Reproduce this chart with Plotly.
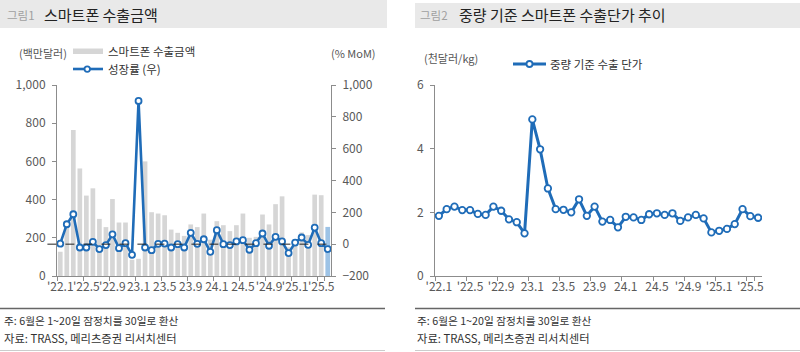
import plotly.graph_objects as go

# ---------------- data ----------------
months = [f"{y}-{m:02d}" for y in (2022, 2023, 2024, 2025) for m in range(1, 13)][:42]
tick_labels = ["'22.1", "'22.5", "'22.9", "23.1", "23.5", "23.9", "24.1", "24.5", "'24.9", "'25.1", "'25.5"]

export_amount = [127, 270, 765, 563, 421, 459, 299, 256, 403, 280, 280, 85,
                 90, 600, 334, 327, 318, 243, 226, 210, 270, 256, 327, 190,
                 287, 266, 235, 266, 327, 200, 205, 322, 270, 376, 417, 150,
                 170, 228, 214, 426, 423, 257]

growth_mom = [3, 125, 188, -21, -21, 15, -31, -6, 62, -25, 6, -67,
              900, -21, -38, 2, 4, -21, 0, -21, 71, 2, 31, -48,
              88, 0, -6, 17, 25, -35, 6, 67, -10, 46, 17, -56,
              10, 42, -4, 104, 6, -31]

unit_price = [1.89, 2.10, 2.18, 2.07, 2.07, 1.95, 1.92, 2.18, 2.05, 1.78, 1.69, 1.34,
              4.92, 3.98, 2.75, 2.10, 2.08, 2.00, 2.41, 1.89, 2.18, 1.71, 1.76, 1.53,
              1.86, 1.84, 1.76, 1.94, 1.97, 1.92, 1.97, 1.73, 1.84, 1.92, 1.81, 1.37,
              1.42, 1.48, 1.63, 2.10, 1.88, 1.83]

# ---------------- style ----------------
W, H = 800, 352
FONT = "Noto Sans CJK KR"
BLUE = "#1f6cb8"
GRAY_BAR = "#d6d6d6"
LAST_BAR = "#9dc3e6"
AX = "#8c8c8c"
TICKC = "#595959"

def px(x):
    return x / W

def py(y):
    return 1 - y / H

bar_colors = [GRAY_BAR] * (len(months) - 1) + [LAST_BAR]

fig = go.Figure()
fig.add_trace(go.Bar(x=months, y=export_amount, marker=dict(color=bar_colors, line=dict(width=0)),
                     xaxis="x", yaxis="y", showlegend=False))
fig.add_trace(go.Scatter(x=months, y=growth_mom, mode="lines+markers",
                         line=dict(color=BLUE, width=2.6),
                         marker=dict(size=6, color="white", line=dict(color=BLUE, width=1.8)),
                         xaxis="x", yaxis="y2", showlegend=False))
fig.add_trace(go.Scatter(x=months, y=unit_price, mode="lines+markers",
                         line=dict(color=BLUE, width=3),
                         marker=dict(size=6.5, color="white", line=dict(color=BLUE, width=1.8)),
                         xaxis="x2", yaxis="y3", showlegend=False))

tickfont = dict(family=FONT, size=12, color=TICKC)
ydom = [py(276), py(85)]

xcommon = dict(type="category", tickson="boundaries", tickvals=months[::4], ticktext=tick_labels,
               range=[-0.5, 41.5], showline=True, linecolor=AX, linewidth=1, ticks="outside",
               ticklen=4, tickcolor=AX, showgrid=False, zeroline=False, tickfont=tickfont,
               tickangle=0, automargin=False)

fig.update_layout(
    width=W, height=H, margin=dict(l=0, r=0, t=0, b=0),
    paper_bgcolor="white", plot_bgcolor="white",
    bargap=0.28, font=dict(family=FONT),
    xaxis=dict(domain=[px(57), px(331)], anchor="y", **xcommon),
    yaxis=dict(domain=ydom, range=[0, 1000], tickvals=[0, 200, 400, 600, 800, 1000],
               tickformat=",", showline=True, linecolor=AX, ticks="outside", ticklen=4,
               tickcolor=AX, showgrid=False, zeroline=False, tickfont=tickfont,
               ticklabelstandoff=4, automargin=False),
    yaxis2=dict(overlaying="y", side="right", anchor="x", range=[-200, 1000],
                tickvals=[-200, 0, 200, 400, 600, 800, 1000], tickformat=",",
                showline=True, linecolor=AX, ticks="outside", ticklen=4, tickcolor=AX,
                showgrid=False, zeroline=False, tickfont=tickfont, ticklabelstandoff=4,
                automargin=False),
    xaxis2=dict(domain=[px(435), px(762)], anchor="y3", **xcommon),
    yaxis3=dict(domain=ydom, anchor="x2", range=[0, 6], tickvals=[0, 2, 4, 6],
                showline=True, linecolor=AX, ticks="outside", ticklen=4, tickcolor=AX,
                showgrid=False, zeroline=False, tickfont=tickfont, ticklabelstandoff=4,
                automargin=False),
)

shapes = []
annos = []

def text(x, y, s, size=11.5, color="#333333", anchor="left"):
    annos.append(dict(x=px(x), y=py(y), xref="paper", yref="paper", text=s,
                      showarrow=False, xanchor=anchor, yanchor="middle",
                      font=dict(family=FONT, size=size, color=color)))

# title bands
shapes.append(dict(type="rect", xref="paper", yref="paper", x0=px(0), x1=px(387), y0=py(28), y1=py(0),
                   fillcolor="#e9e9e9", line=dict(width=0), layer="below"))
shapes.append(dict(type="rect", xref="paper", yref="paper", x0=px(415), x1=px(800), y0=py(28), y1=py(3),
                   fillcolor="#e9e9e9", line=dict(width=0), layer="below"))
text(5, 15, "그림1", size=11.5, color="#a0a0a0")
text(42, 15, "스마트폰 수출금액", size=15, color="#222222")
text(418, 15, "그림2", size=11.5, color="#a0a0a0")
text(457, 15, "중량 기준 스마트폰 수출단가 추이", size=15, color="#222222")

# left legend & unit labels
text(17, 53, "(백만달러)", size=11, color="#555555")
text(378, 53, "(% MoM)", size=11, color="#555555", anchor="right")
shapes.append(dict(type="rect", xref="paper", yref="paper", x0=px(73), x1=px(103), y0=py(54), y1=py(48.5),
                   fillcolor=GRAY_BAR, line=dict(width=0)))
text(106, 51, "스마트폰 수출금액", size=11.5, color="#333333")
shapes.append(dict(type="line", xref="paper", yref="paper", x0=px(73), x1=px(103), y0=py(69), y1=py(69),
                   line=dict(color=BLUE, width=2.6)))
shapes.append(dict(type="circle", xref="paper", yref="paper", x0=px(84.5), x1=px(90), y0=py(71.8), y1=py(66.3),
                   fillcolor="white", line=dict(color=BLUE, width=1.8)))
text(106, 69, "성장률 (우)", size=11.5, color="#333333")

# right legend & unit label
text(422, 58, "(천달러/kg)", size=11, color="#555555")
shapes.append(dict(type="line", xref="paper", yref="paper", x0=px(513), x1=px(546), y0=py(64), y1=py(64),
                   line=dict(color=BLUE, width=3)))
shapes.append(dict(type="circle", xref="paper", yref="paper", x0=px(526.5), x1=px(532.5), y0=py(67), y1=py(61),
                   fillcolor="white", line=dict(color=BLUE, width=1.8)))
text(548, 64, "중량 기준 수출 단가", size=11.5, color="#333333")

# dashed zero line for MoM axis
shapes.append(dict(type="line", xref="x domain", yref="y2", x0=-0.035, x1=1.0, y0=0, y1=0,
                   line=dict(color="#222222", width=1, dash="dash")))

# footnotes
for x0, x1 in ((0, 385), (415, 800)):
    shapes.append(dict(type="line", xref="paper", yref="paper", x0=px(x0), x1=px(x1), y0=py(308.5), y1=py(308.5),
                       line=dict(color="#666666", width=1.5)))
    shapes.append(dict(type="line", xref="paper", yref="paper", x0=px(x0), x1=px(x1), y0=py(350.5), y1=py(350.5),
                       line=dict(color="#cccccc", width=1)))
for fx in (2, 415):
    text(fx, 320, "주: 6월은 1~20일 잠정치를 30일로 환산", size=10.7, color="#333333")
    text(fx, 338, "자료: TRASS, 메리츠증권 리서치센터", size=11.3, color="#333333")

fig.update_layout(shapes=shapes, annotations=annos)
fig.write_html("out.html")
